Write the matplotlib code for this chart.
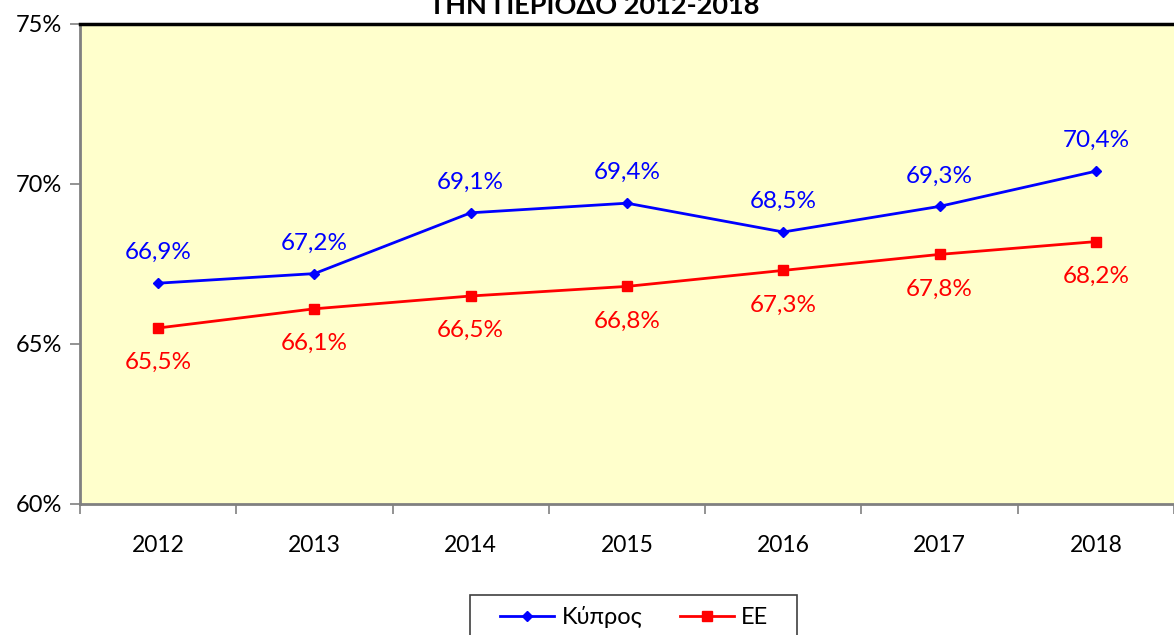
import matplotlib
matplotlib.use("Agg")
import matplotlib.pyplot as plt
from matplotlib.lines import Line2D
from matplotlib.patches import Rectangle

years = ["2012", "2013", "2014", "2015", "2016", "2017", "2018"]
cyprus = [66.9, 67.2, 69.1, 69.4, 68.5, 69.3, 70.4]
eu = [65.5, 66.1, 66.5, 66.8, 67.3, 67.8, 68.2]
yticks = [60, 65, 70, 75]
title = "ΤΗΝ ΠΕΡΙΟΔΟ 2012-2018"
series_names = ["Κύπρος", "ΕΕ"]

W, H = 1174, 635
fig = plt.figure(figsize=(W / 100, H / 100), dpi=100)
plt.rcParams['font.family'] = ['Lato', 'DejaVu Sans']

left, right, top, bottom = 80, 1174, 24, 504
ax = fig.add_axes([left / W, 1 - bottom / H, (right - left) / W, (bottom - top) / H])
ax.set_facecolor("#FFFFCC")

x = list(range(len(years)))
ax.plot(x, cyprus, color="#0000FF", lw=2, marker="D", ms=5.5, zorder=3)
ax.plot(x, eu, color="#FF0000", lw=2, marker="s", ms=6.5, zorder=3)

def fmt(v):
    return f"{v:.1f}%".replace(".", ",")

for xi, v in zip(x, cyprus):
    ax.annotate(fmt(v), (xi, v), xytext=(0, 20), textcoords="offset pixels",
                ha="center", va="bottom", fontsize=17.5, color="#0000FF")
for xi, v in zip(x, eu):
    ax.annotate(fmt(v), (xi, v), xytext=(0, -24), textcoords="offset pixels",
                ha="center", va="top", fontsize=17.5, color="#FF0000")

ax.set_xlim(-0.5, -0.5 + (right - left) / 157)
ax.set_ylim(60, 75)
ax.set_yticks(yticks)
ax.set_yticklabels([f"{t}%" for t in yticks], fontsize=17)
ax.set_xticks([i + 0.5 for i in range(-1, len(years))], minor=False)
ax.set_xticklabels([])
ax.set_xticks(x, minor=True)
ax.set_xticklabels(years, minor=True, fontsize=16.5)
ax.tick_params(axis="x", which="minor", length=0, pad=22)
ax.tick_params(axis="x", which="major", length=7, color="#808080", width=1.2)
ax.tick_params(axis="y", length=7, color="#808080", width=1.2, pad=6)

for s in ["left", "bottom"]:
    ax.spines[s].set_color("#808080")
    ax.spines[s].set_linewidth(2)
ax.spines["top"].set_color("black")
ax.spines["top"].set_linewidth(2.5)
ax.spines["right"].set_visible(False)

fig.text(594 / W, 1 - 6 / H, title, ha="center", va="center",
         fontsize=19.5, fontweight="bold", color="black")

handles = [Line2D([], [], color="#0000FF", lw=2, marker="D", ms=5.5),
           Line2D([], [], color="#FF0000", lw=2, marker="s", ms=6.5)]
leg = fig.legend(handles, series_names, loc="center left",
                 bbox_to_anchor=(500 / W, 1 - 617 / H), ncol=2, fontsize=17,
                 frameon=False, handlelength=2.3, columnspacing=1.6,
                 borderpad=0, handletextpad=0.3, borderaxespad=0)
fig.patches.append(Rectangle((470 / W, 1 - 640 / H), (797 - 470) / W, 45 / H,
                             transform=fig.transFigure, fill=False,
                             edgecolor="#404040", lw=1.2))

fig.savefig("out.png", dpi=100)
